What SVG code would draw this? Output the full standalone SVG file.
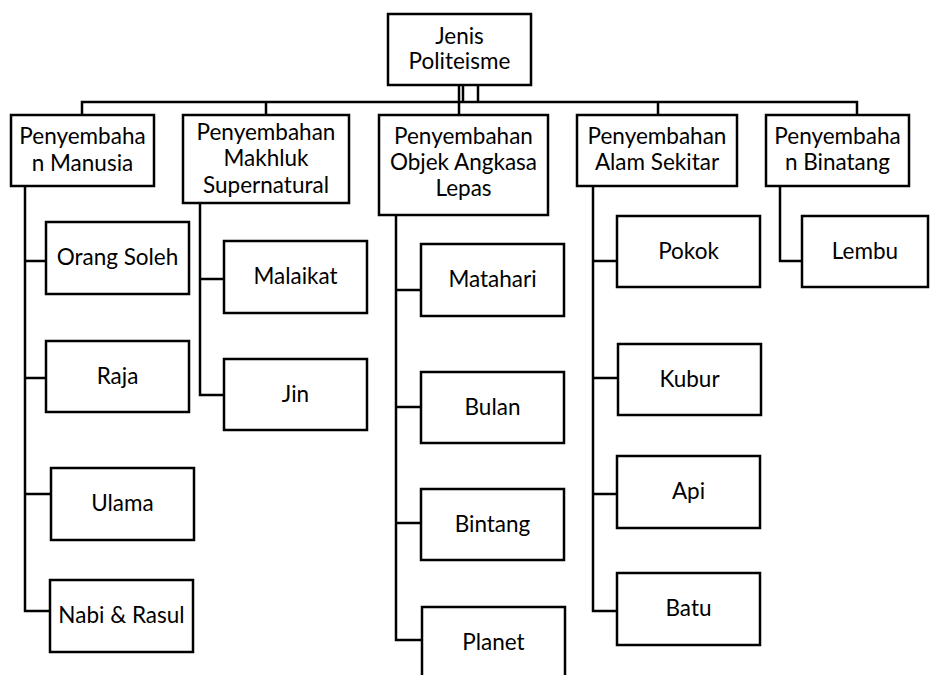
<svg xmlns="http://www.w3.org/2000/svg" width="930" height="675" viewBox="0 0 930 675">
<style>
.box{fill:#fff;stroke:#000;stroke-width:2.5}
.ln{fill:none;stroke:#000;stroke-width:2.5}
text{font-family:Lato,"Open Sans","Liberation Sans",sans-serif;font-size:22.5px;fill:#000;text-anchor:middle}
</style>
<rect width="930" height="675" fill="#fff"/>
<g id="connectors" class="ln">
<path d="M459 85V115M463 85V102M478 85V102"/>
<path d="M82 115V102H857V115M266 102V115M658 102V115"/>
<path d="M25 186V611H50M25 261H46M25 378H46M25 494H51"/>
<path d="M200 203V395H224M200 279H224"/>
<path d="M396 215V640H422M396 290H421M396 407H421M396 523H421"/>
<path d="M593 186V611H617M593 261H617M593 378H618M593 494H617"/>
<path d="M780 186V261H802"/>
</g>
<g id="root"><rect class="box" x="388" y="14" width="143" height="71"/><text x="459.5" y="44">Jenis</text><text x="459.5" y="69">Politeisme</text></g>
<g id="manusia"><rect class="box" x="11" y="115" width="143" height="71"/><text x="82.5" y="144">Penyembaha</text><text x="82.5" y="171">n Manusia</text></g>
<g id="supernatural"><rect class="box" x="183" y="115" width="166" height="88"/><text x="266" y="140">Penyembahan</text><text x="266" y="166">Makhluk</text><text x="266" y="193">Supernatural</text></g>
<g id="angkasa"><rect class="box" x="379" y="115" width="169" height="100"/><text x="463.5" y="144">Penyembahan</text><text x="463.5" y="170">Objek Angkasa</text><text x="463.5" y="196">Lepas</text></g>
<g id="alam"><rect class="box" x="577" y="115" width="160" height="71"/><text x="657" y="144">Penyembahan</text><text x="657" y="170">Alam Sekitar</text></g>
<g id="binatang"><rect class="box" x="766" y="115" width="143" height="71"/><text x="837.5" y="144">Penyembaha</text><text x="837.5" y="170">n Binatang</text></g>
<g id="orang-soleh"><rect class="box" x="46" y="222" width="143" height="72"/><text x="117.5" y="265">Orang Soleh</text></g>
<g id="raja"><rect class="box" x="46" y="341" width="143" height="71"/><text x="117.5" y="384">Raja</text></g>
<g id="ulama"><rect class="box" x="51" y="468" width="143" height="72"/><text x="122.5" y="511">Ulama</text></g>
<g id="nabi-rasul"><rect class="box" x="50" y="580" width="143" height="72"/><text x="121.5" y="623">Nabi &amp; Rasul</text></g>
<g id="malaikat"><rect class="box" x="224" y="241" width="143" height="72"/><text x="295.5" y="284">Malaikat</text></g>
<g id="jin"><rect class="box" x="224" y="359" width="143" height="71"/><text x="295.5" y="402">Jin</text></g>
<g id="matahari"><rect class="box" x="421" y="244" width="143" height="72"/><text x="492.5" y="287">Matahari</text></g>
<g id="bulan"><rect class="box" x="421" y="372" width="143" height="71"/><text x="492.5" y="415">Bulan</text></g>
<g id="bintang"><rect class="box" x="421" y="489" width="143" height="71"/><text x="492.5" y="532">Bintang</text></g>
<g id="planet"><rect class="box" x="422" y="607" width="143" height="90"/><text x="493.5" y="650">Planet</text></g>
<g id="pokok"><rect class="box" x="617" y="216" width="143" height="71"/><text x="688.5" y="259">Pokok</text></g>
<g id="kubur"><rect class="box" x="618" y="344" width="143" height="71"/><text x="689.5" y="387">Kubur</text></g>
<g id="api"><rect class="box" x="617" y="456" width="143" height="72"/><text x="688.5" y="499">Api</text></g>
<g id="batu"><rect class="box" x="617" y="573" width="143" height="72"/><text x="688.5" y="616">Batu</text></g>
<g id="lembu"><rect class="box" x="802" y="216" width="126" height="71"/><text x="865" y="259">Lembu</text></g>
</svg>
